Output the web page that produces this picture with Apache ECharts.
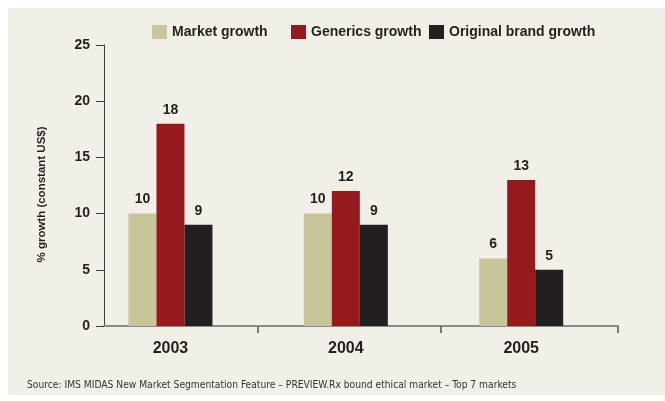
<!DOCTYPE html>
<html>
<head>
<meta charset="utf-8">
<style>
  html, body { margin: 0; padding: 0; background: #ffffff; }
  #chart { width: 665px; height: 401px; }
</style>
<script src="https://cdn.jsdelivr.net/npm/echarts@6/dist/echarts.min.js"></script>
</head>
<body>
<div id="chart"></div>
<script>
// Growth by year, % (constant US$)
const years = [2003, 2004, 2005];
const marketGrowth = [10, 10, 6];
const genericsGrowth = [18, 12, 13];
const originalGrowth = [9, 9, 5];
const seriesNames = ['Market growth', 'Generics growth', 'Original brand growth'];
const yTicks = [0, 5, 10, 15, 20, 25];
const sourceNote = 'Source: IMS MIDAS New Market Segmentation Feature \u2013 PREVIEW.Rx bound ethical market \u2013 Top 7 markets';

const colors = ['#c8c59b', '#96191e', '#231f20'];
const boldFont = '"Liberation Sans", Arial, sans-serif';
const narrowFont = '"Liberation Sans Narrow", "Arial Narrow", "DejaVu Sans Condensed", "Liberation Sans", sans-serif';
const ink = '#231f20';

function pairs(values) {
  return years.map((y, i) => [y, values[i]]);
}

function barSeries(name, values, color) {
  return {
    name: name,
    type: 'bar',
    data: pairs(values),
    barWidth: 28,
    barGap: '0%',
    itemStyle: { color: color },
    label: {
      show: true,
      position: 'top',
      distance: 7,
      color: ink,
      fontFamily: boldFont,
      fontWeight: 'bold',
      fontSize: 14,
      formatter: p => String(p.value[1])
    }
  };
}

function legendAt(left, name) {
  return {
    left: left,
    top: 25,
    padding: 0,
    icon: 'rect',
    itemWidth: 15,
    itemHeight: 14,
    data: [name],
    selectedMode: false,
    textStyle: { color: ink, fontFamily: boldFont, fontWeight: 'bold', fontSize: 14 }
  };
}

const chart = echarts.init(document.getElementById('chart'), null, { renderer: 'canvas' });
chart.setOption({
  backgroundColor: '#ffffff',
  animation: false,
  color: colors,
  graphic: [
    {
      type: 'rect', left: 8, top: 8, z: -10, silent: true,
      shape: { width: 657, height: 387 },
      style: { fill: '#f1f0e8' }
    },
    {
      type: 'text', left: 27, top: 380,
      style: { text: sourceNote, fill: '#333333', font: '10.2px ' + narrowFont }
    }
  ],
  legend: [
    legendAt(152, seriesNames[0]),
    legendAt(291, seriesNames[1]),
    legendAt(429, seriesNames[2])
  ],
  grid: { left: 104, right: 47, top: 45, bottom: 75, containLabel: false },
  xAxis: {
    type: 'value',
    min: 2002.621,
    max: 2005.552,
    splitLine: { show: false },
    axisLine: { show: true, lineStyle: { color: '#8a8a8a', width: 2 } },
    axisTick: {
      show: true,
      length: 7,
      customValues: [2003.5, 2004.54, 2005.552],
      lineStyle: { color: '#7a7a7a', width: 2 }
    },
    axisLabel: {
      customValues: years,
      margin: 15,
      color: ink,
      fontFamily: boldFont,
      fontWeight: 'bold',
      fontSize: 16,
      formatter: v => String(Math.round(v))
    }
  },
  yAxis: {
    type: 'value',
    min: yTicks[0],
    max: yTicks[yTicks.length - 1],
    interval: yTicks[1] - yTicks[0],
    name: '% growth (constant US$)',
    nameLocation: 'middle',
    nameGap: 56,
    nameTextStyle: {
      color: ink, fontFamily: boldFont, fontWeight: 'bold', fontSize: 11.5,
      padding: [0, 18, 0, 0]
    },
    splitLine: { show: false },
    axisLine: { show: true, lineStyle: { color: '#3a3a3a', width: 1 } },
    axisTick: { show: true, length: 8, lineStyle: { color: '#3a3a3a', width: 1 } },
    axisLabel: {
      margin: 14,
      color: ink,
      fontFamily: boldFont,
      fontWeight: 'bold',
      fontSize: 14
    }
  },
  series: [
    barSeries(seriesNames[0], marketGrowth, colors[0]),
    barSeries(seriesNames[1], genericsGrowth, colors[1]),
    barSeries(seriesNames[2], originalGrowth, colors[2])
  ]
});
</script>
</body>
</html>
